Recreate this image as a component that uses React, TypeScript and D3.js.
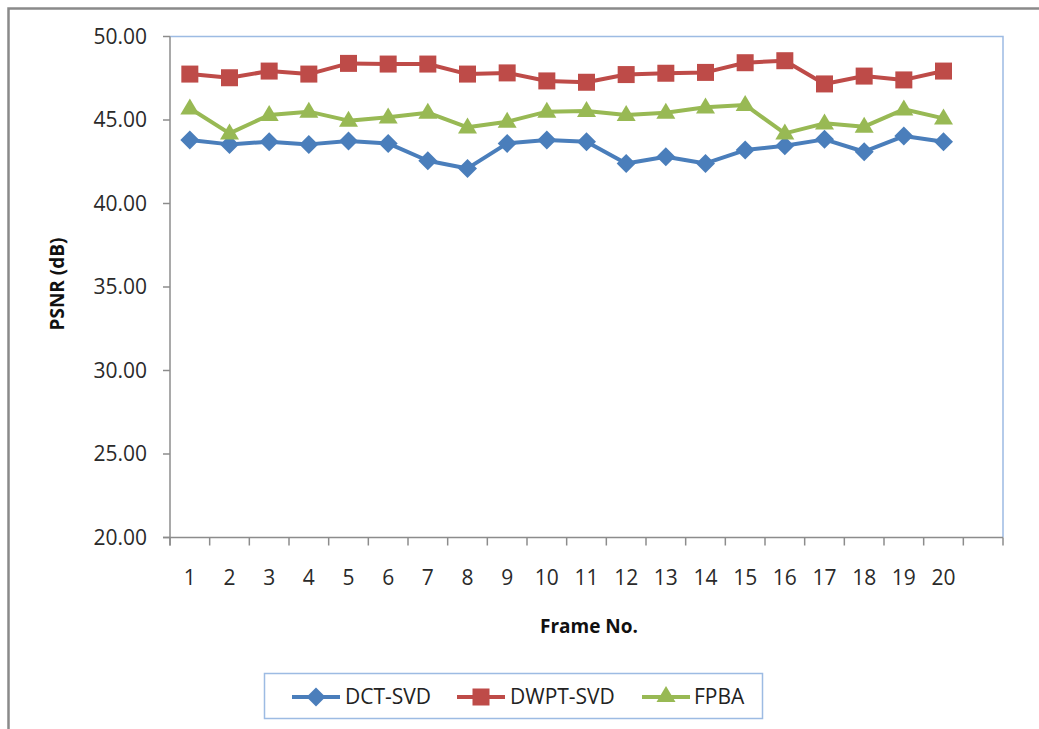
import React from "react";
import * as d3 from "d3";

const frames = ["1","2","3","4","5","6","7","8","9","10","11","12","13","14","15","16","17","18","19","20",""];
const dctSvd = [43.8,43.54,43.7,43.54,43.74,43.6,42.56,42.1,43.6,43.8,43.7,42.4,42.8,42.4,43.2,43.46,43.84,43.1,44.04,43.7];
const dwptSvd = [47.75,47.53,47.93,47.75,48.39,48.35,48.35,47.75,47.82,47.34,47.26,47.72,47.8,47.85,48.43,48.55,47.16,47.63,47.4,47.93];
const fpba = [45.7,44.2,45.3,45.5,44.96,45.16,45.44,44.56,44.9,45.5,45.54,45.3,45.44,45.76,45.9,44.2,44.8,44.6,45.64,45.1];
const yTicks = [20,25,30,35,40,45,50];
const seriesNames = ["DCT-SVD","DWPT-SVD","FPBA"];
const seriesColors = ["#4a7ebb","#be4b48","#98b954"];

const W = 1039, H = 729;
const L = 170, R = 1003, T = 36.5, B = 537.5;
const FONT = "'Open Sans', sans-serif";

function Marker({ kind, x, y, color }: { kind: number; x: number; y: number; color: string }) {
  if (kind === 0) {
    const s = 9.5;
    return <path d={`M${x},${y - s}L${x + s},${y}L${x},${y + s}L${x - s},${y}Z`} fill={color} />;
  }
  if (kind === 1) {
    const s = 8.5;
    return <rect x={x - s} y={y - s} width={2 * s} height={2 * s} fill={color} />;
  }
  const h = 16, w = 19;
  return <path d={`M${x},${y - h * 0.62}L${x + w / 2},${y + h * 0.38}L${x - w / 2},${y + h * 0.38}Z`} fill={color} />;
}

export default function App() {
  const x = d3.scaleBand<string>().domain(frames).range([L, R]);
  const y = d3.scaleLinear().domain([20, 50]).range([B, T]);
  const data = [dctSvd, dwptSvd, fpba];
  const line = d3.line<number>()
    .x((_, i) => (x(frames[i]) as number) + x.bandwidth() / 2)
    .y((d) => y(d));
  const tickXs = frames.map((f) => x(f) as number).concat([R]);

  const legendItems = [
    { lx: 292, tx: 345 },
    { lx: 457, tx: 510 },
    { lx: 642, tx: 694 },
  ];
  const ly = 697;

  return (
    <svg width={W} height={H} style={{ position: "absolute", left: 0, top: 0, background: "#fff" }}>
      <rect x={0} y={0} width={W} height={H} fill="#fff" />
      {/* outer frame */}
      <path d={`M8.5,${H + 5}V8.5H${W + 5}`} fill="none" stroke="#8a8a8a" strokeWidth={2.5} />
      {/* plot border top/right */}
      <path d={`M${L},${T}H${R}V${B}`} fill="none" stroke="#9dbbe3" strokeWidth={1.5} />
      {/* y axis */}
      <line x1={L} x2={L} y1={T} y2={B + 8} stroke="#8c8c8c" strokeWidth={1.5} />
      {yTicks.map((t) => (
        <g key={t}>
          <line x1={L - 7} x2={L} y1={y(t)} y2={y(t)} stroke="#8c8c8c" strokeWidth={1.5} />
          <text x={147} y={y(t)} dy="0.35em" textAnchor="end" fontFamily={FONT} fontSize={21} fill="#2a2a2a">
            {d3.format(".2f")(t)}
          </text>
        </g>
      ))}
      {/* x axis */}
      <line x1={L - 7} x2={R} y1={B} y2={B} stroke="#8c8c8c" strokeWidth={1.5} />
      {tickXs.map((tx, i) => (
        <line key={i} x1={tx} x2={tx} y1={B} y2={B + 8} stroke="#8c8c8c" strokeWidth={1.5} />
      ))}
      {frames.map((f) => (
        <text key={f + "l"} x={(x(f) as number) + x.bandwidth() / 2} y={578} dy="0.35em" textAnchor="middle" fontFamily={FONT} fontSize={21} fill="#2a2a2a">
          {f}
        </text>
      ))}
      {/* axis titles */}
      <text x={589} y={626} dy="0.35em" textAnchor="middle" fontFamily={FONT} fontSize={19} fontWeight="bold" fill="#111">
        Frame No.
      </text>
      <text transform={`translate(57,284) rotate(-90)`} dy="0.35em" textAnchor="middle" fontFamily={FONT} fontSize={19} fontWeight="bold" fill="#111">
        PSNR (dB)
      </text>
      {/* series */}
      {data.map((s, si) => (
        <g key={si}>
          <path d={line(s) || ""} fill="none" stroke={seriesColors[si]} strokeWidth={4} strokeLinejoin="round" />
          {s.map((v, i) => (
            <Marker key={i} kind={si} x={(x(frames[i]) as number) + x.bandwidth() / 2} y={y(v)} color={seriesColors[si]} />
          ))}
        </g>
      ))}
      {/* legend */}
      <rect x={264.5} y={673.5} width={498} height={45} fill="#fff" stroke="#9dbbe3" strokeWidth={1.5} />
      {seriesNames.map((n, i) => (
        <g key={n}>
          <line x1={legendItems[i].lx} x2={legendItems[i].lx + 48} y1={ly} y2={ly} stroke={seriesColors[i]} strokeWidth={4} />
          <Marker kind={i} x={legendItems[i].lx + 24} y={i === 2 ? ly - 1 : ly} color={seriesColors[i]} />
          <text x={legendItems[i].tx} y={ly} dy="0.35em" fontFamily={FONT} fontSize={21} fill="#222">
            {n}
          </text>
        </g>
      ))}
    </svg>
  );
}
